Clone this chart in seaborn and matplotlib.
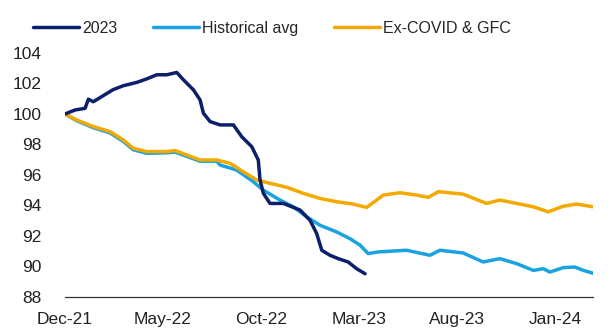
import matplotlib
matplotlib.use("Agg")
import matplotlib.pyplot as plt
import seaborn as sns

# months since Dec-21
m_2023 = [0, 0.51, 1.02, 1.19, 1.44, 1.95, 2.46, 2.97, 3.66, 4.17, 4.68, 5.19, 5.70,
          6.04, 6.55, 6.89, 7.06, 7.40, 7.91, 8.59, 9.02, 9.53, 9.86, 9.95, 10.12,
          10.46, 11.14, 11.99, 12.5, 12.84, 13.1, 13.52, 13.94, 14.45, 14.88, 15.31]
v_2023 = [100, 100.26, 100.37, 100.97, 100.8, 101.2, 101.6, 101.85, 102.07, 102.3, 102.57,
          102.57, 102.72, 102.24, 101.58, 100.92, 100.05, 99.5, 99.28, 99.28, 98.5, 97.85,
          96.98, 95.67, 94.79, 94.13, 94.13, 93.7, 93.03, 92.16, 91.06, 90.73, 90.51,
          90.29, 89.85, 89.52]

m_hist = [0, 0.6, 1.44, 2.3, 2.97, 3.48, 4.17, 5.19, 5.61, 6.21, 6.89, 7.74, 7.91, 8.76,
          9.6, 10.12, 10.97, 11.65, 12.33, 13.01, 13.86, 14.54, 15.05, 15.47, 15.98,
          17.43, 18.62, 19.13, 20.32, 21.34, 22.19, 23.05, 23.9, 24.41, 24.74, 25.43,
          26.02, 26.45, 26.95]
v_hist = [100, 99.55, 99.1, 98.75, 98.2, 97.65, 97.42, 97.45, 97.5, 97.22, 96.9, 96.9,
          96.65, 96.32, 95.56, 95.0, 94.35, 93.91, 93.25, 92.7, 92.26, 91.82, 91.4, 90.84,
          90.95, 91.06, 90.73, 91.06, 90.88, 90.29, 90.51, 90.18, 89.74, 89.85, 89.63,
          89.92, 89.96, 89.74, 89.55]

m_ex = [0, 0.6, 1.44, 2.3, 2.97, 3.48, 4.17, 5.19, 5.61, 6.21, 6.89, 7.74, 8.42, 9.1,
        9.78, 10.46, 11.31, 12.16, 13.01, 13.86, 14.7, 15.39, 15.9, 16.24, 17.09, 17.94,
        18.54, 19.05, 20.32, 21.51, 22.19, 23.05, 23.9, 24.66, 25.43, 26.11, 26.95]
v_ex = [100, 99.6, 99.17, 98.84, 98.29, 97.75, 97.53, 97.53, 97.6, 97.31, 96.98, 96.98,
        96.76, 96.21, 95.67, 95.45, 95.19, 94.79, 94.46, 94.24, 94.09, 93.87, 94.35,
        94.68, 94.83, 94.68, 94.53, 94.9, 94.74, 94.13, 94.35, 94.13, 93.91, 93.58,
        93.95, 94.09, 93.91]

tick_pos = [0, 5, 10, 15, 20, 25]
tick_labels = ["Dec-21", "May-22", "Oct-22", "Mar-23", "Aug-23", "Jan-24"]
y_ticks = [88, 90, 92, 94, 96, 98, 100, 102, 104]

sns.set_theme(style="white")
plt.rcParams['font.family'] = ['Liberation Sans', 'DejaVu Sans']

fig = plt.figure(figsize=(6.14, 3.31), dpi=100)
ax = fig.add_axes([0.106, 0.103, 0.86, 0.737])

c_2023 = "#0b1f6b"
c_hist = "#1aa3e0"
c_ex = "#f2a900"
lw = 2.5

sns.lineplot(x=m_hist, y=v_hist, ax=ax, color=c_hist, lw=lw, label="Historical avg")
sns.lineplot(x=m_ex, y=v_ex, ax=ax, color=c_ex, lw=lw, label="Ex-COVID & GFC")
sns.lineplot(x=m_2023, y=v_2023, ax=ax, color=c_2023, lw=lw, label="2023")

ax.set_xlim(0, 26.95)
ax.set_ylim(88, 104)
ax.set_xticks(tick_pos)
ax.set_xticklabels(tick_labels)
ax.set_yticks(y_ticks)
ax.tick_params(axis='both', labelsize=12.5, colors="#222222", length=0)
ax.tick_params(axis='x', pad=11)
ax.tick_params(axis='y', pad=17)
for s in ["top", "right", "left"]:
    ax.spines[s].set_visible(False)
ax.spines["bottom"].set_color("#333333")
ax.spines["bottom"].set_linewidth(0.9)
ax.set_xlabel("")
ax.set_ylabel("")

h, l = ax.get_legend_handles_labels()
order = [2, 0, 1]
ax.get_legend().remove()
fig.legend([h[i] for i in order], [l[i] for i in order], loc="center left",
           bbox_to_anchor=(0.03, 0.915), ncol=3, frameon=False, fontsize=11.5,
           handlelength=2.9, handletextpad=0.2, columnspacing=2.2)

fig.savefig("out.png", dpi=100)
